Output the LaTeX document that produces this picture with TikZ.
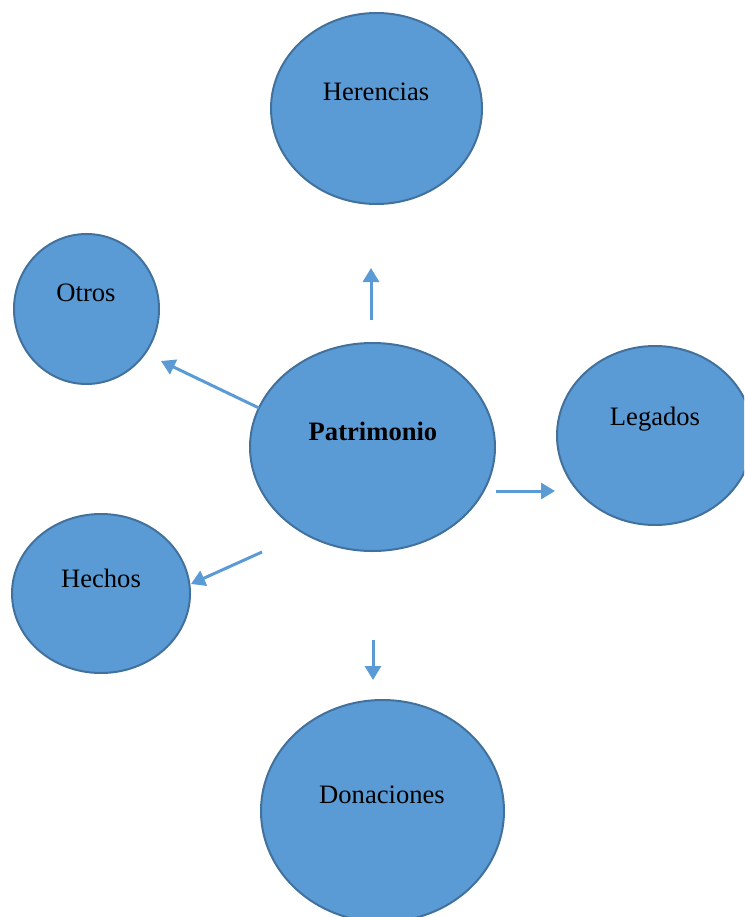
\documentclass[tikz,border=0pt]{standalone}
\usepackage{fontspec}
\setmainfont{Liberation Serif}
\usetikzlibrary{arrows.meta,shapes.geometric}
\definecolor{fillblue}{HTML}{5B9BD5}
\definecolor{edgeblue}{HTML}{41719C}
\begin{document}
\begin{tikzpicture}[x=1pt,y=-1pt,
  bubble/.style={draw=edgeblue,line width=2pt,fill=fillblue},
  lbl/.style={font=\fontsize{26.6}{32}\selectfont,text=black,inner sep=0pt},
  conn/.style={draw=fillblue,line width=3pt,-{Triangle[length=14pt,width=16pt]}}]
\useasboundingbox (0,0) rectangle (744,917);
\begin{scope}
\clip (0,0) rectangle (744,917);
\draw[bubble] (376.5,108.5) ellipse [x radius=105.5,y radius=95.5];
\draw[bubble] (86.5,309) ellipse [x radius=72.5,y radius=75];
\draw[bubble] (372.5,447) ellipse [x radius=122.5,y radius=104];
\draw[bubble] (655,435.5) ellipse [x radius=98,y radius=89.5];
\draw[bubble] (101,593.5) ellipse [x radius=89,y radius=79.5];
\draw[bubble] (382.5,811) ellipse [x radius=121.5,y radius=111];
\end{scope}
\node[lbl] (her) at (376,92) {Herencias};
\node[lbl] (otr) at (86,293) {Otros};
\node[lbl,font=\fontsize{26.6}{32}\selectfont\bfseries] (pat) at (373,431) {Patrimonio};
\node[lbl] (leg) at (655,419) {Legados};
\node[lbl] (hec) at (101,578) {Hechos};
\node[lbl] (don) at (382,795) {Donaciones};
\coordinate (a1) at (371,320); \coordinate (b1) at (371,268);
\coordinate (a2) at (259,408); \coordinate (b2) at (161,361);
\coordinate (a3) at (262,552); \coordinate (b3) at (191,584);
\coordinate (a4) at (496,491); \coordinate (b4) at (555,491);
\coordinate (a5) at (373,640); \coordinate (b5) at (373,680);
\draw[conn] (a1) -- (b1);
\draw[conn] (a2) -- (b2);
\draw[conn] (a3) -- (b3);
\draw[conn] (a4) -- (b4);
\draw[conn] (a5) -- (b5);
\end{tikzpicture}
\end{document}
